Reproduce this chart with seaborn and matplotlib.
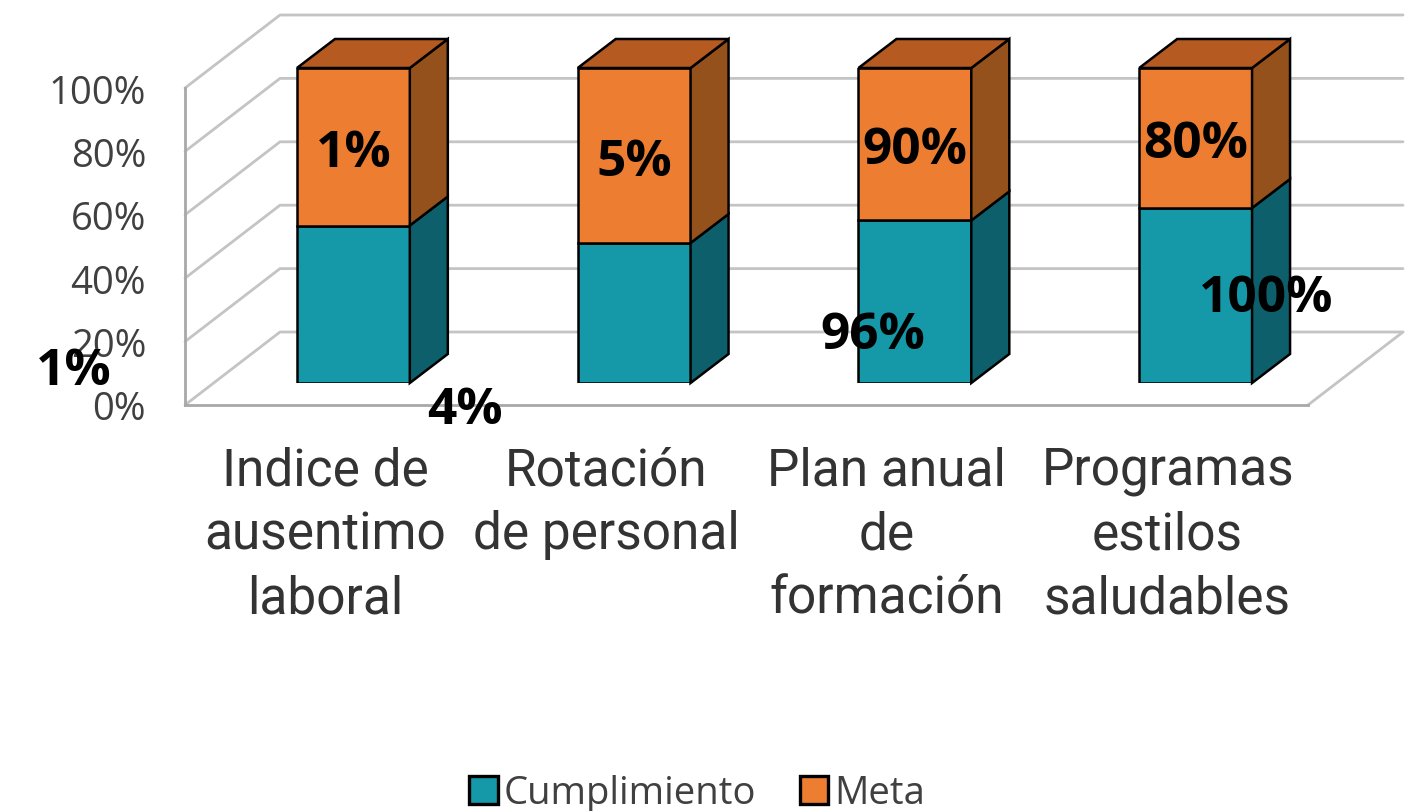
import numpy as np
import pandas as pd
import seaborn as sns
import matplotlib.pyplot as plt
from matplotlib.patches import Polygon
from matplotlib.ticker import PercentFormatter

categorias = ['Indice de\nausentimo\nlaboral', 'Rotación\nde personal',
              'Plan anual\nde\nformación', 'Programas\nestilos\nsaludables']
cumplimiento = [1, 4, 96, 100]
meta = [1, 5, 90, 80]
etiq_cumplimiento = ['1%', '4%', '96%', '100%']
etiq_meta = ['1%', '5%', '90%', '80%']

# label offsets from the bar centre, in pixels (they sit off the bars in the original)
offset_cumplimiento = [(-280, -67), (-169, -97), (-42, -33), (71, -3)]

W, H = 1418, 812
TEAL, ORANGE = '#1598A8', '#ED7D31'
TEAL_SIDE, ORANGE_SIDE, ORANGE_TOP = '#0D606B', '#95511C', '#B55A20'
GRID = '#C4C4C4'

total = np.array(cumplimiento) + np.array(meta)
share_c = np.array(cumplimiento) / total
share_m = np.array(meta) / total
df = pd.DataFrame({'cat': categorias, 'cumplimiento': share_c, 'meta': share_m})

sns.set_style('white')
plt.rcParams['font.family'] = ['Open Sans', 'DejaVu Sans']

fig = plt.figure(figsize=(W / 100, H / 100), dpi=100)


def box(left, right, top, bottom):
    return [left / W, 1 - bottom / H, (right - left) / W, (bottom - top) / H]


# front plane of the box: carries the ticks and the walls
ax = fig.add_axes(box(185, 1308, 89, 406))
ax.set_xlim(-0.5, 3.5)
ax.set_ylim(0, 1)
ax.set_xticks(range(4))
ax.set_xticklabels(categorias, fontfamily='Roboto', fontsize=37, color='#333333', linespacing=1.36)
ax.set_yticks(np.arange(0, 1.01, 0.2))
ax.yaxis.set_major_formatter(PercentFormatter(1, decimals=0))
ax.tick_params(axis='y', length=0, pad=28, labelsize=27.5, labelcolor='#404040')
ax.tick_params(axis='x', length=0, pad=29)
sns.despine(ax=ax)
for s in ['left', 'bottom']:
    ax.spines[s].set_color('#A8A8A8')
    ax.spines[s].set_linewidth(2)

# back wall and floor, pushed back from the front plane
back_x = 95 / 280.75
back_y = 73 / 317
for t in ax.get_yticks():
    ax.plot([-0.5, -0.5 + back_x, 3.5 + back_x], [t, t + back_y, t + back_y],
            color=GRID, lw=2, clip_on=False, zorder=1)
ax.plot([3.5, 3.5 + back_x], [0, back_y], color=GRID, lw=2, clip_on=False, zorder=1)

# bars live in a second axes, shifted back into the box
ax_bar = fig.add_axes(box(213, 1336, 69, 384))
ax_bar.patch.set_alpha(0)
sns.barplot(data=df, x='cat', y='cumplimiento', color=TEAL, saturation=1, width=0.402,
            edgecolor='black', linewidth=1.8, label='Cumplimiento', ax=ax_bar)
sns.barplot(data=df, x='cat', y='meta', bottom=share_c, color=ORANGE, saturation=1, width=0.402,
            edgecolor='black', linewidth=1.8, label='Meta', ax=ax_bar)
ax_bar.set_xlim(-0.5, 3.5)
ax_bar.set_ylim(0, 1)

# depth faces, worked out from the bars that seaborn drew
dx = 38 / 280.75
dy = 29 / 315
bars = list(ax_bar.patches)
for i, bar in enumerate(bars):
    x1 = bar.get_x() + bar.get_width()
    x0 = bar.get_x()
    y0 = bar.get_y()
    y1 = y0 + bar.get_height()
    side = TEAL_SIDE if i < 4 else ORANGE_SIDE
    ax_bar.add_patch(Polygon([(x1, y0), (x1 + dx, y0 + dy), (x1 + dx, y1 + dy), (x1, y1)],
                             facecolor=side, edgecolor='black', lw=1.8, clip_on=False, zorder=3))
    if i >= 4:
        ax_bar.add_patch(Polygon([(x0, y1), (x0 + dx, y1 + dy), (x1 + dx, y1 + dy), (x1, y1)],
                                 facecolor=ORANGE_TOP, edgecolor='black', lw=1.8, clip_on=False, zorder=3))

for i, bar in enumerate(bars[:4]):
    xc = bar.get_x() + bar.get_width() / 2
    ax_bar.annotate(etiq_cumplimiento[i], (xc, bar.get_height() / 2), xytext=offset_cumplimiento[i],
                    textcoords='offset pixels', ha='center', va='center', fontsize=37,
                    fontweight='bold', color='black', zorder=5, annotation_clip=False)
for i, bar in enumerate(bars[4:]):
    xc = bar.get_x() + bar.get_width() / 2
    yc = bar.get_y() + bar.get_height() / 2
    ax_bar.annotate(etiq_meta[i], (xc, yc), xytext=(0, -6), textcoords='offset pixels',
                    ha='center', va='center', fontsize=37, fontweight='bold',
                    color='black', zorder=5, annotation_clip=False)

ax_bar.set_xlabel('')
ax_bar.set_ylabel('')
ax_bar.set_xticks([])
ax_bar.set_yticks([])
sns.despine(ax=ax_bar, left=True, bottom=True)
handles, labels = ax_bar.get_legend_handles_labels()
leg = ax_bar.legend(handles, labels, ncol=2, frameon=False, fontsize=27.5, labelcolor='#404040',
                    loc='center', bbox_to_anchor=(697 / W, 1 - 794 / H), bbox_transform=fig.transFigure,
                    handlelength=0.75, handleheight=0.75, handletextpad=0.15, columnspacing=1.15)
for h in leg.get_patches():
    h.set_edgecolor('black')
    h.set_linewidth(2.4)

ax.set_xlabel('')
fig.savefig('out.png', dpi=100)
